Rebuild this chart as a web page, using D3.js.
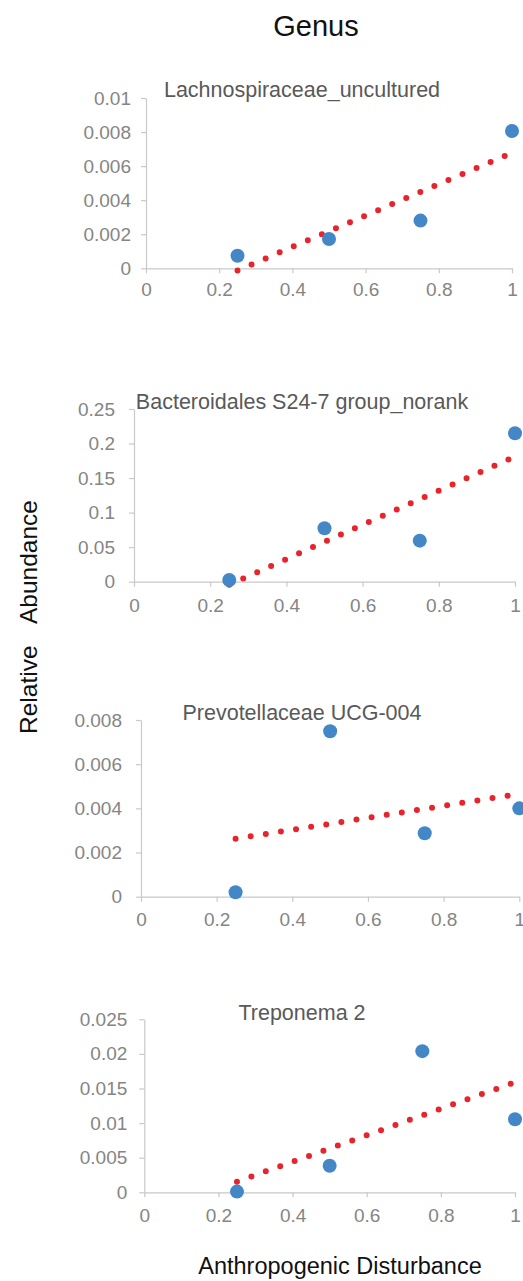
<!DOCTYPE html>
<html>
<head>
<meta charset="utf-8">
<script src="https://cdn.jsdelivr.net/npm/d3@7"></script>
<style>
  html, body { margin: 0; padding: 0; background: #fff; }
  svg { display: block; }
  text { font-family: "Liberation Sans", Arial, sans-serif; }
</style>
</head>
<body>
<svg id="chart" width="523" height="1281"></svg>
<script>
// Anthropogenic disturbance index for the four sampling sites
const disturbance = [0.25, 0.5, 0.75, 1];

// Genus names, one per panel
const genera = [
  "Lachnospiraceae_uncultured",
  "Bacteroidales S24-7 group_norank",
  "Prevotellaceae UCG-004",
  "Treponema 2"
];

// Relative abundance of each genus at the four sites
const lachnospiraceae = [0.00074, 0.00172, 0.0028, 0.00806];
const bacteroidales   = [0.0025, 0.0773, 0.0594, 0.2148];
const prevotellaceae  = [0.0002, 0.00749, 0.00287, 0.0040];
const treponema       = [0.0001, 0.00384, 0.0204, 0.01055];

// Axis ticks
const xTicks = [0, 0.2, 0.4, 0.6, 0.8, 1];
const xTickLabels = ["0", "0.2", "0.4", "0.6", "0.8", "1"];
const lachTicks = [0, 0.002, 0.004, 0.006, 0.008, 0.01];
const lachTickLabels = ["0", "0.002", "0.004", "0.006", "0.008", "0.01"];
const bactTicks = [0, 0.05, 0.1, 0.15, 0.2, 0.25];
const bactTickLabels = ["0", "0.05", "0.1", "0.15", "0.2", "0.25"];
const prevTicks = [0, 0.002, 0.004, 0.006, 0.008];
const prevTickLabels = ["0", "0.002", "0.004", "0.006", "0.008"];
const trepTicks = [0, 0.005, 0.01, 0.015, 0.02, 0.025];
const trepTickLabels = ["0", "0.005", "0.01", "0.015", "0.02", "0.025"];

const series = [lachnospiraceae, bacteroidales, prevotellaceae, treponema];
const yTickSets = [lachTicks, bactTicks, prevTicks, trepTicks];
const yTickLabelSets = [lachTickLabels, bactTickLabels, prevTickLabels, trepTickLabels];

// Plot-area geometry of each panel (pixels)
const layout = [
  { left: 146,   right: 512,   top: 98,     bottom: 268.3,  pad: 10, xLab: 28, titleY: 97 },
  { left: 134,   right: 515,   top: 409,    bottom: 581.7,  pad: 14, xLab: 30, titleY: 409 },
  { left: 141,   right: 519.3, top: 720,    bottom: 896.7,  pad: 14, xLab: 29.5, titleY: 720 },
  { left: 144.3, right: 515,   top: 1019.3, bottom: 1192.3, pad: 12, xLab: 29.5, titleY: 1020 }
];

const axisColor = "#c9c9c9";
const tickTextColor = "#858585";
const titleColor = "#595959";
const pointColor = "#4387c7";
const trendColor = "#e8232b";

const svg = d3.select("#chart");

// Least-squares trend line through the four site values
function linearFit(xs, ys) {
  const n = xs.length;
  const mx = d3.mean(xs), my = d3.mean(ys);
  let sxy = 0, sxx = 0;
  for (let i = 0; i < n; i++) {
    sxy += (xs[i] - mx) * (ys[i] - my);
    sxx += (xs[i] - mx) * (xs[i] - mx);
  }
  const slope = sxy / sxx;
  return { slope, intercept: my - slope * mx };
}

series.forEach((vals, i) => {
  const L = layout[i];
  const ticks = yTickSets[i];
  const labels = yTickLabelSets[i];

  const x = d3.scaleLinear().domain([0, 1]).range([L.left, L.right]);
  const y = d3.scaleLinear().domain([0, d3.max(ticks)]).range([L.bottom, L.top]);

  const g = svg.append("g").attr("class", "panel");

  // y axis
  const yAxis = d3.axisLeft(y)
    .tickValues(ticks)
    .tickFormat((d, k) => labels[k])
    .tickSize(5)
    .tickSizeOuter(0)
    .tickPadding(L.pad);
  const gy = g.append("g").attr("transform", `translate(${L.left},0)`).call(yAxis);
  gy.select(".domain").attr("stroke", axisColor).attr("stroke-width", 1.2);
  gy.selectAll(".tick line").attr("stroke", axisColor).attr("stroke-width", 1.2);
  gy.selectAll(".tick text")
    .attr("fill", tickTextColor)
    .style("font-family", '"Liberation Sans", Arial, sans-serif')
    .style("font-size", "19px");

  // x axis
  const xAxis = d3.axisBottom(x)
    .tickValues(xTicks)
    .tickFormat((d, k) => xTickLabels[k])
    .tickSize(5)
    .tickSizeOuter(0);
  const gx = g.append("g").attr("transform", `translate(0,${L.bottom})`).call(xAxis);
  gx.select(".domain").attr("stroke", axisColor).attr("stroke-width", 1.2);
  gx.selectAll(".tick line").attr("stroke", axisColor).attr("stroke-width", 1.2);
  gx.selectAll(".tick text")
    .attr("fill", tickTextColor)
    .attr("dy", "0")
    .attr("y", L.xLab)
    .style("font-family", '"Liberation Sans", Arial, sans-serif')
    .style("font-size", "19px");

  // panel title
  g.append("text")
    .attr("x", 302)
    .attr("y", L.titleY)
    .attr("text-anchor", "middle")
    .attr("fill", titleColor)
    .style("font-size", "21.5px")
    .text(genera[i]);

  // dotted linear trend line
  const fit = linearFit(disturbance, vals);
  const x0 = d3.min(disturbance), x1 = d3.max(disturbance);
  g.append("line")
    .attr("x1", x(x0)).attr("y1", y(fit.intercept + fit.slope * x0))
    .attr("x2", x(x1)).attr("y2", y(fit.intercept + fit.slope * x1))
    .attr("stroke", trendColor)
    .attr("stroke-width", 6)
    .attr("stroke-linecap", "round")
    .attr("stroke-dasharray", "0 15.3");

  // site values
  g.selectAll("circle.site")
    .data(disturbance.map((d, k) => ({ x: d, y: vals[k] })))
    .join("circle")
    .attr("class", "site")
    .attr("cx", d => x(d.x))
    .attr("cy", d => y(d.y))
    .attr("r", 7)
    .attr("fill", pointColor);
});

// overall titles
svg.append("text")
  .attr("x", 316).attr("y", 36)
  .attr("text-anchor", "middle")
  .attr("fill", "#111")
  .style("font-size", "29px")
  .text("Genus");

svg.append("text")
  .attr("x", 340).attr("y", 1274)
  .attr("text-anchor", "middle")
  .attr("fill", "#111")
  .style("font-size", "23.5px")
  .text("Anthropogenic Disturbance");

const yTitle = svg.append("text")
  .attr("transform", "translate(37,734) rotate(-90)")
  .attr("fill", "#111")
  .style("font-size", "24.5px");
yTitle.append("tspan").attr("x", 0).text("Relative");
yTitle.append("tspan").attr("x", 110).text("Abundance");
</script>
</body>
</html>
